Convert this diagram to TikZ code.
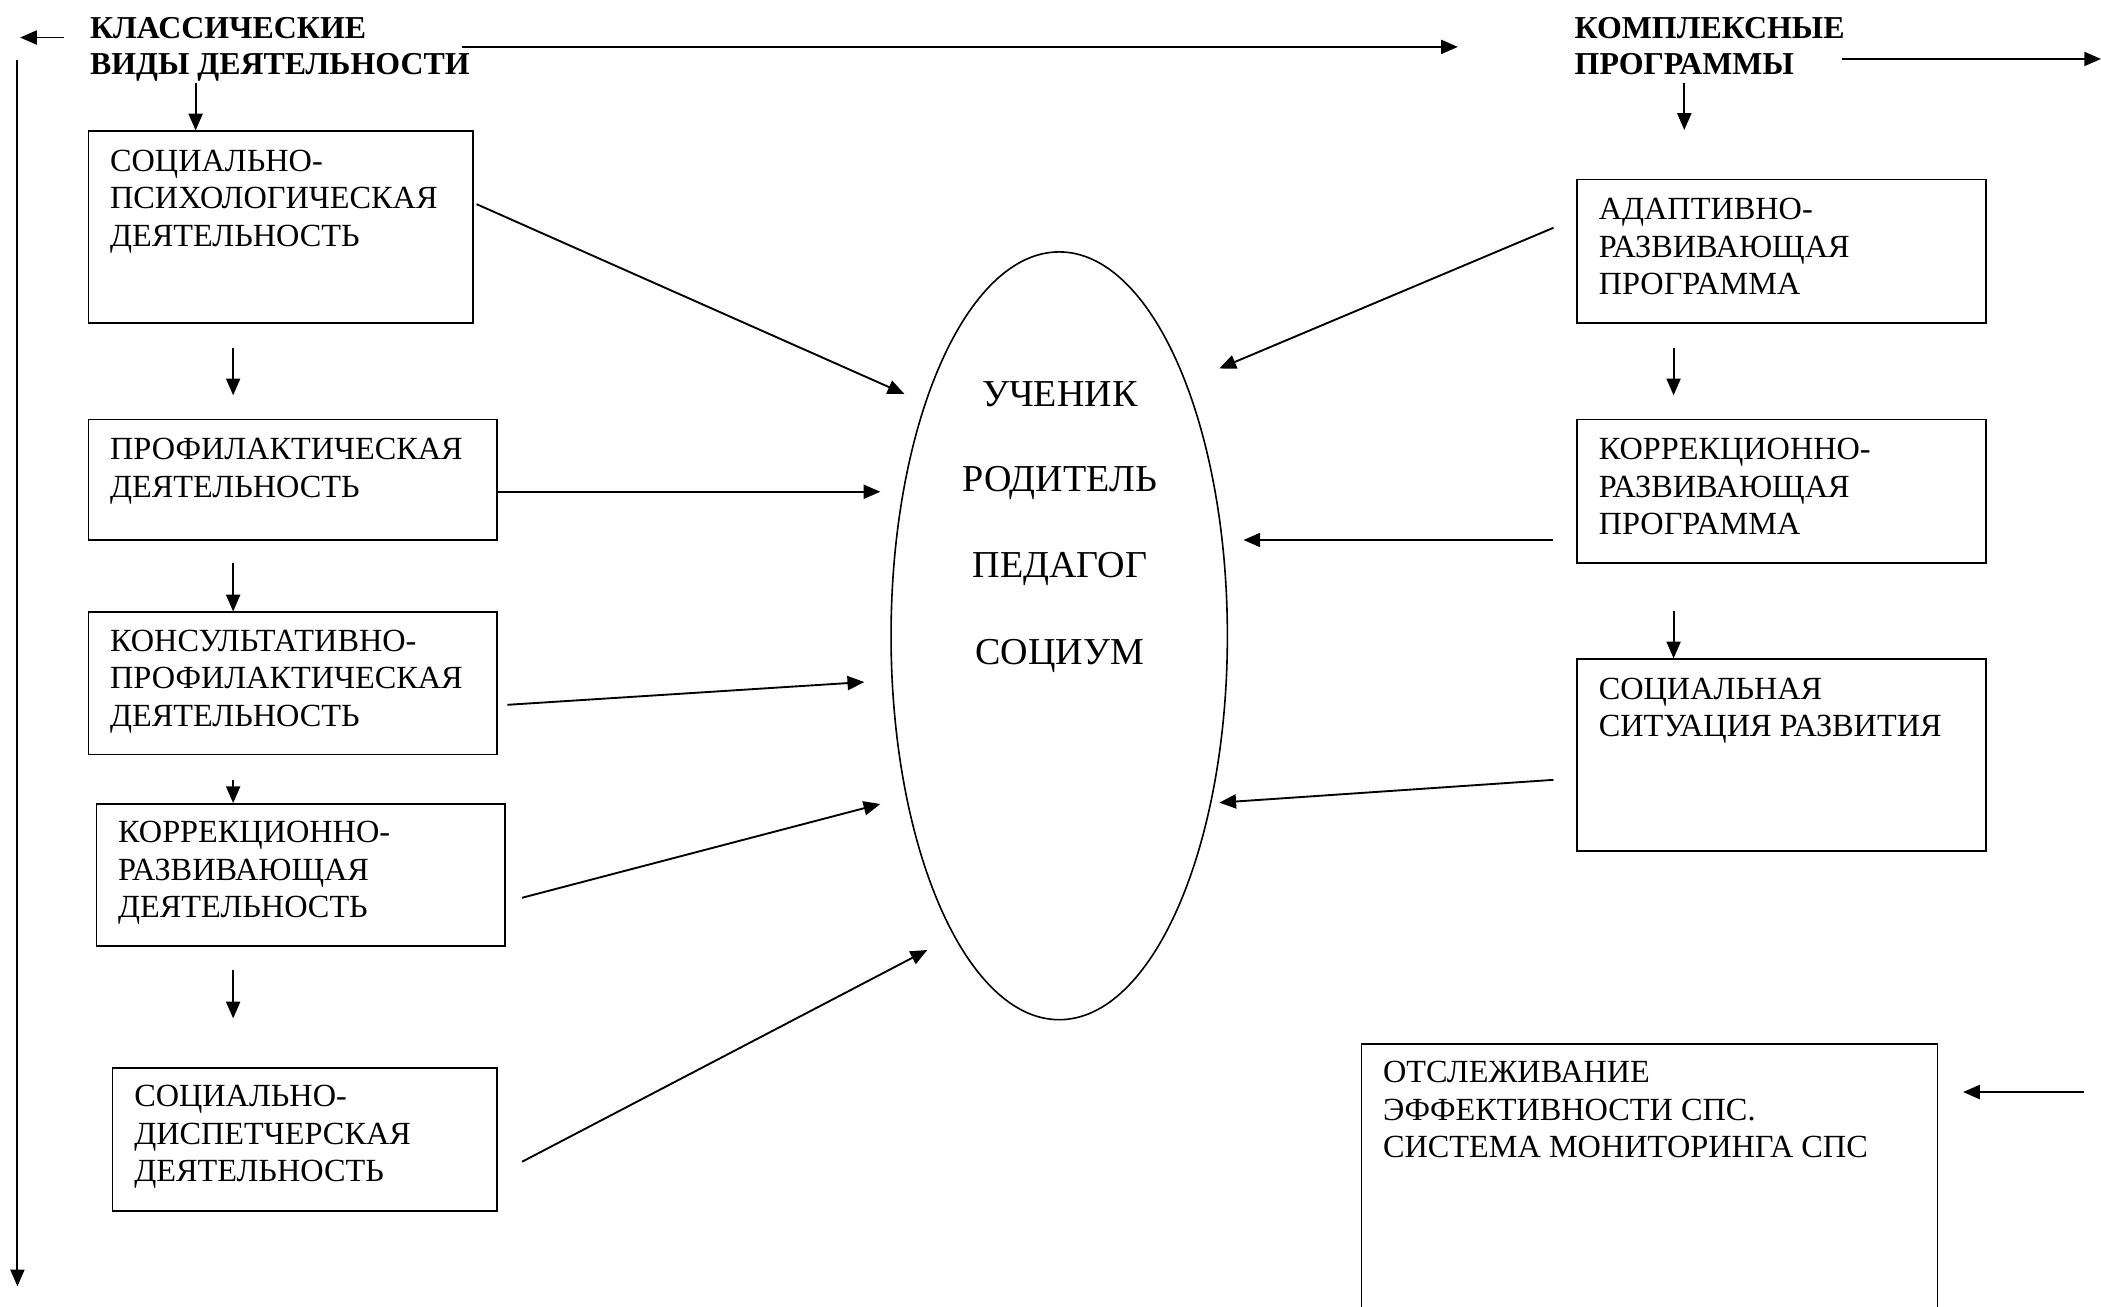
\documentclass[tikz,border=0pt]{standalone}
\usepackage{fontspec}
\setmainfont{Liberation Serif}
\usetikzlibrary{arrows.meta,shapes.geometric,calc}
\begin{document}
\begin{tikzpicture}[x=1pt,y=-1pt,
  box/.style={draw,line width=1.3pt,inner sep=0,rectangle},
  txt/.style={font=\fontsize{24.1}{28}\selectfont,align=left,anchor=north west,inner sep=0},
  ttl/.style={font=\fontsize{23.8}{27}\selectfont\bfseries,align=left,anchor=north west,inner sep=0},
  big/.style={font=\fontsize{28.4}{34}\selectfont,anchor=base,inner sep=0},
  arr/.style={-{Triangle[length=12.5pt,width=10.5pt]},line width=1.4pt}]
\useasboundingbox (0,0) rectangle (1568,975);

% titles
\node[ttl] (tl) at (67,12.8) {КЛАССИЧЕСКИЕ\\ВИДЫ ДЕЯТЕЛЬНОСТИ};
\node[ttl] (tr) at (1175,12.8) {КОМПЛЕКСНЫЕ\\ПРОГРАММЫ};

% left boxes
\node[box,minimum width=287pt,minimum height=143pt] (b1) at (209.5,169.5) {};
\node[txt] (b1t) at (82,111.8) {СОЦИАЛЬНО-\\ПСИХОЛОГИЧЕСКАЯ\\ДЕЯТЕЛЬНОСТЬ};
\node[box,minimum width=305pt,minimum height=90pt] (b2) at (218.5,358) {};
\node[txt] (b2t) at (82,326.8) {ПРОФИЛАКТИЧЕСКАЯ\\ДЕЯТЕЛЬНОСТЬ};
\node[box,minimum width=305pt,minimum height=106pt] (b3) at (218.5,510) {};
\node[txt] (b3t) at (82,469.8) {КОНСУЛЬТАТИВНО-\\ПРОФИЛАКТИЧЕСКАЯ\\ДЕЯТЕЛЬНОСТЬ};
\node[box,minimum width=305pt,minimum height=106pt] (b4) at (224.5,653) {};
\node[txt] (b4t) at (88,612.8) {КОРРЕКЦИОННО-\\РАЗВИВАЮЩАЯ\\ДЕЯТЕЛЬНОСТЬ};
\node[box,minimum width=287pt,minimum height=107pt] (b5) at (227.5,850.5) {};
\node[txt] (b5t) at (100,809.8) {СОЦИАЛЬНО-\\ДИСПЕТЧЕРСКАЯ\\ДЕЯТЕЛЬНОСТЬ};

% right boxes
\node[box,minimum width=305pt,minimum height=107pt] (r1) at (1329.5,187.5) {};
\node[txt] (r1t) at (1193,147.8) {АДАПТИВНО-\\РАЗВИВАЮЩАЯ\\ПРОГРАММА};
\node[box,minimum width=305pt,minimum height=107pt] (r2) at (1329.5,366.5) {};
\node[txt] (r2t) at (1193,326.8) {КОРРЕКЦИОННО-\\РАЗВИВАЮЩАЯ\\ПРОГРАММА};
\node[box,minimum width=305pt,minimum height=143pt] (r3) at (1329.5,563.5) {};
\node[txt] (r3t) at (1193,505.8) {СОЦИАЛЬНАЯ\\СИТУАЦИЯ РАЗВИТИЯ};
\node[box,minimum width=430pt,minimum height=232pt] (r4) at (1231,895) {};
\node[txt] (r4t) at (1032,791.8) {ОТСЛЕЖИВАНИЕ\\ЭФФЕКТИВНОСТИ СПС.\\СИСТЕМА МОНИТОРИНГА СПС};

% central ellipse
\node[ellipse,draw,line width=1.2pt,minimum width=251pt,minimum height=573pt,inner sep=0] (el) at (790.5,474.5) {};
\node[big] (e1) at (791,303) {УЧЕНИК};
\node[big] (e2) at (791,367) {РОДИТЕЛЬ};
\node[big] (e3) at (791,431) {ПЕДАГОГ};
\node[big] (e4) at (791,496) {СОЦИУМ};

% free coordinates
\coordinate (tlA) at (48,28);  \coordinate (tlB) at (15,28);
\coordinate (vA) at (13,45);   \coordinate (vB) at (13,960);
\coordinate (hA) at (345,35);  \coordinate (hB) at (1088,35);
\coordinate (rA) at (1375,44); \coordinate (rB) at (1568,44);
\coordinate (mA) at (1555,815); \coordinate (mB) at (1465,815);
\coordinate (a0) at (146,62);
\coordinate (d1s) at (174,260); \coordinate (d1e) at (174,295);
\coordinate (d2s) at (174,420);
\coordinate (d3s) at (174,582);
\coordinate (d4s) at (174,724); \coordinate (d4e) at (174,760);
\coordinate (q0s) at (1257,62); \coordinate (q0e) at (1257,97);
\coordinate (q1s) at (1249,260); \coordinate (q1e) at (1249,295);
\coordinate (q2s) at (1249,456);
\coordinate (t1) at (675,294);
\coordinate (t2) at (657,367);
\coordinate (t3) at (645,509);
\coordinate (t4) at (657,600);
\coordinate (t5) at (692,709);
\coordinate (u1) at (910,275);
\coordinate (u2) at (928,403);
\coordinate (u3) at (910,599);

% top and side arrows
\draw[arr] (tlA) -- (tlB);
\draw[arr] (vA) -- (vB);
\draw[arr] (hA) -- (hB);
\draw[arr] (rA) -- (rB);
\draw[arr] (mA) -- (mB);

% vertical arrows, left column
\draw[arr] (a0) -- (a0 |- b1.north);
\draw[arr] (d1s) -- (d1e);
\draw[arr] (d2s) -- (d2s |- b3.north);
\draw[arr] (d3s) -- (d3s |- b4.north);
\draw[arr] (d4s) -- (d4e);

% vertical arrows, right column
\draw[arr] (q0s) -- (q0e);
\draw[arr] (q1s) -- (q1e);
\draw[arr] (q2s) -- (q2s |- r3.north);

% arrows to the ellipse
\draw[arr] ($(b1.north east)+(2,55)$) -- (t1);
\draw[arr] ($(b2.east)+(0,9)$) -- (t2);
\draw[arr] ($(b3.east)+(7,16)$) -- (t3);
\draw[arr] ($(b4.east)+(12,17)$) -- (t4);
\draw[arr] ($(b5.east)+(18,16.5)$) -- (t5);
\draw[arr] ($(r1.west)+(-17,-17.5)$) -- (u1);
\draw[arr] ($(r2.west)+(-17,36.5)$) -- (u2);
\draw[arr] ($(r3.west)+(-17,18.5)$) -- (u3);
\end{tikzpicture}
\end{document}
